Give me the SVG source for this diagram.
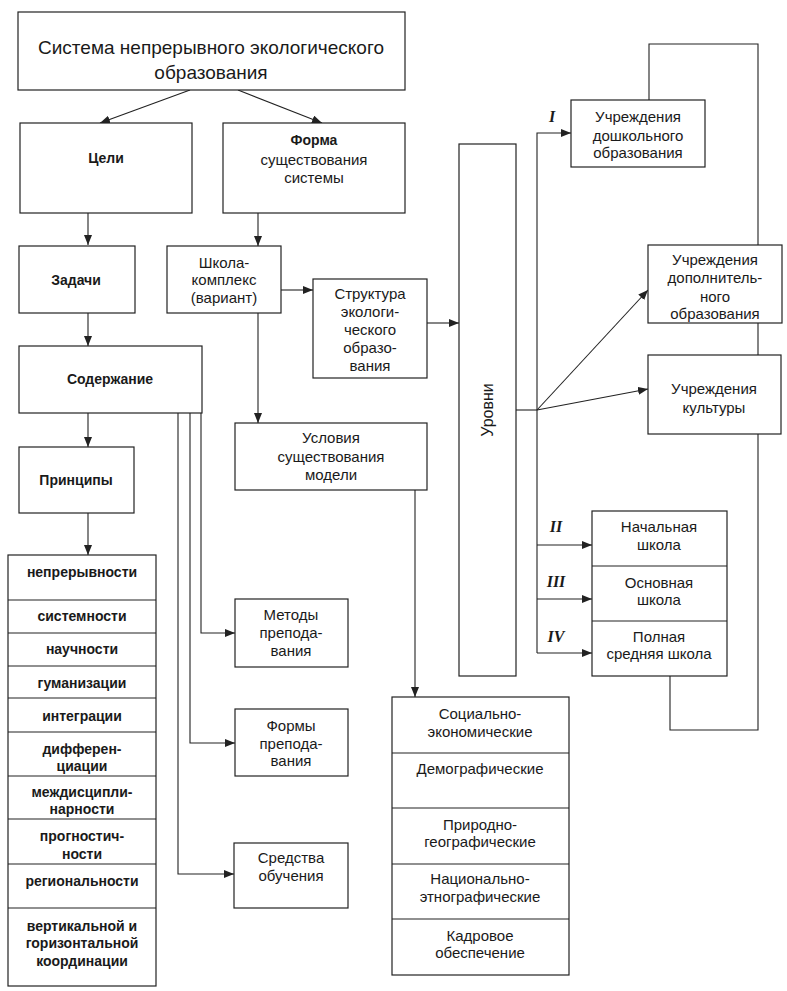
<svg xmlns="http://www.w3.org/2000/svg" width="787" height="991" viewBox="0 0 787 991">
<style>
.b{fill:#fff;stroke:#222;stroke-width:1.2}
.l{fill:none;stroke:#222;stroke-width:1.1}
.t{font-family:"Liberation Sans",Arial,sans-serif;font-size:15px;fill:#1a1a1a;text-anchor:middle}
.tb{font-weight:bold;font-size:14px}
.tt{font-size:19px}
.r{font-family:"Liberation Serif","Times New Roman",serif;font-size:16px;font-weight:bold;font-style:italic;fill:#1a1a1a;text-anchor:middle}
</style>
<defs>
<marker id="a" viewBox="0 0 10 8" refX="10" refY="4" markerWidth="10" markerHeight="8" markerUnits="userSpaceOnUse" orient="auto">
<path d="M0,0 L10,4 L0,8 Z" fill="#222"/>
</marker>
</defs>
<rect width="787" height="991" fill="#fff"/>
<g id="connectors">
<path class="l" d="M649,100 V44 H758 V730 H670 V676"/>
<line class="l" x1="190" y1="90" x2="100" y2="123" marker-end="url(#a)"/>
<line class="l" x1="238" y1="90" x2="322" y2="123" marker-end="url(#a)"/>
<line class="l" x1="88" y1="213" x2="88" y2="245" marker-end="url(#a)"/>
<line class="l" x1="258" y1="213" x2="258" y2="246" marker-end="url(#a)"/>
<line class="l" x1="281" y1="290" x2="313" y2="290" marker-end="url(#a)"/>
<line class="l" x1="427" y1="323" x2="459" y2="323" marker-end="url(#a)"/>
<line class="l" x1="88" y1="313" x2="88" y2="346" marker-end="url(#a)"/>
<line class="l" x1="88" y1="413" x2="88" y2="447" marker-end="url(#a)"/>
<line class="l" x1="88" y1="513" x2="88" y2="555" marker-end="url(#a)"/>
<line class="l" x1="258" y1="313" x2="258" y2="423" marker-end="url(#a)"/>
<path class="l" d="M415,490 V697" marker-end="url(#a)"/>
<path class="l" d="M201,413 V633 H235" marker-end="url(#a)"/>
<path class="l" d="M190,413 V743 H235" marker-end="url(#a)"/>
<path class="l" d="M178,413 V874 H234" marker-end="url(#a)"/>
<path class="l" d="M516,410 H537"/>
<path class="l" d="M537,653 V133 H571" marker-end="url(#a)"/>
<line class="l" x1="537" y1="410" x2="648" y2="290" marker-end="url(#a)"/>
<line class="l" x1="537" y1="410" x2="648" y2="389" marker-end="url(#a)"/>
<line class="l" x1="537" y1="545" x2="592" y2="545" marker-end="url(#a)"/>
<line class="l" x1="537" y1="599" x2="592" y2="599" marker-end="url(#a)"/>
<line class="l" x1="537" y1="653" x2="592" y2="653" marker-end="url(#a)"/>
<text class="r" x="552" y="122">I</text>
<text class="r" x="556" y="532">II</text>
<text class="r" x="556" y="587">III</text>
<text class="r" x="556" y="642">IV</text>
</g>
<g id="n-system">
<rect class="b" x="18" y="12" width="387" height="78"/>
<text class="t tt" x="211" y="54">Система непрерывного экологического</text>
<text class="t tt" x="211" y="79">образования</text>
</g>
<g id="n-goals">
<rect class="b" x="20" y="123" width="172" height="90"/>
<text class="t tb" x="106" y="163">Цели</text>
</g>
<g id="n-form">
<rect class="b" x="223" y="123" width="182" height="90"/>
<text class="t tb" x="314" y="145">Форма</text>
<text class="t" x="314" y="165">существования</text>
<text class="t" x="314" y="183">системы</text>
</g>
<g id="n-tasks">
<rect class="b" x="19" y="246" width="116" height="67"/>
<text class="t tb" x="76" y="285">Задачи</text>
</g>
<g id="n-school">
<rect class="b" x="167" y="246" width="114" height="67"/>
<text class="t" x="224" y="268">Школа-</text>
<text class="t" x="224" y="285">комплекс</text>
<text class="t" x="224" y="303">(вариант)</text>
</g>
<g id="n-structure">
<rect class="b" x="313" y="279" width="114" height="99"/>
<text class="t" x="370" y="299">Структура</text>
<text class="t" x="370" y="317">экологи-</text>
<text class="t" x="370" y="335">ческого</text>
<text class="t" x="370" y="353">образо-</text>
<text class="t" x="370" y="371">вания</text>
</g>
<g id="n-levels">
<rect class="b" x="459" y="144" width="57" height="532"/>
<text class="t" style="font-size:16px" transform="translate(493,410) rotate(-90)">Уровни</text>
</g>
<g id="n-content">
<rect class="b" x="19" y="346" width="183" height="67"/>
<text class="t tb" x="110" y="384">Содержание</text>
</g>
<g id="n-principles">
<rect class="b" x="19" y="447" width="115" height="66"/>
<text class="t tb" x="76" y="485">Принципы</text>
</g>
<g id="n-principles-list">
<rect class="b" x="8" y="555" width="148" height="431"/>
<path class="l" d="M8,600 H156 M8,633 H156 M8,666 H156 M8,698 H156 M8,732 H156 M8,776 H156 M8,819 H156 M8,864 H156 M8,908 H156"/>
<text class="t tb" x="82" y="577">непрерывности</text>
<text class="t tb" x="82" y="621">системности</text>
<text class="t tb" x="82" y="654">научности</text>
<text class="t tb" x="82" y="688">гуманизации</text>
<text class="t tb" x="82" y="721">интеграции</text>
<text class="t tb" x="82" y="754">дифферен-</text>
<text class="t tb" x="82" y="771">циации</text>
<text class="t tb" x="82" y="797">междисципли-</text>
<text class="t tb" x="82" y="814">нарности</text>
<text class="t tb" x="82" y="841">прогностич-</text>
<text class="t tb" x="82" y="859">ности</text>
<text class="t tb" x="82" y="886">региональности</text>
<text class="t tb" x="82" y="931">вертикальной и</text>
<text class="t tb" x="82" y="948">горизонтальной</text>
<text class="t tb" x="82" y="966">координации</text>
</g>
<g id="n-conditions">
<rect class="b" x="235" y="423" width="192" height="67"/>
<text class="t" x="331" y="443">Условия</text>
<text class="t" x="331" y="462">существования</text>
<text class="t" x="331" y="480">модели</text>
</g>
<g id="n-methods">
<rect class="b" x="235" y="599" width="113" height="68"/>
<text class="t" x="291" y="620">Методы</text>
<text class="t" x="291" y="638">препода-</text>
<text class="t" x="291" y="656">вания</text>
</g>
<g id="n-forms">
<rect class="b" x="235" y="709" width="113" height="67"/>
<text class="t" x="291" y="731">Формы</text>
<text class="t" x="291" y="749">препода-</text>
<text class="t" x="291" y="766">вания</text>
</g>
<g id="n-means">
<rect class="b" x="234" y="843" width="114" height="65"/>
<text class="t" x="291" y="863">Средства</text>
<text class="t" x="291" y="881">обучения</text>
</g>
<g id="n-factors">
<rect class="b" x="392" y="697" width="177" height="278"/>
<path class="l" d="M392,753 H569 M392,808 H569 M392,864 H569 M392,919 H569"/>
<text class="t" x="480" y="719">Социально-</text>
<text class="t" x="480" y="737">экономические</text>
<text class="t" x="480" y="774">Демографические</text>
<text class="t" x="480" y="830">Природно-</text>
<text class="t" x="480" y="847">географические</text>
<text class="t" x="480" y="884">Национально-</text>
<text class="t" x="480" y="902">этнографические</text>
<text class="t" x="480" y="941">Кадровое</text>
<text class="t" x="480" y="958">обеспечение</text>
</g>
<g id="n-preschool">
<rect class="b" x="571" y="100" width="134" height="67"/>
<text class="t" x="638" y="122">Учреждения</text>
<text class="t" x="638" y="141">дошкольного</text>
<text class="t" x="638" y="158">образования</text>
</g>
<g id="n-additional">
<rect class="b" x="648" y="245" width="134" height="78"/>
<text class="t" x="715" y="265">Учреждения</text>
<text class="t" x="715" y="283">дополнитель-</text>
<text class="t" x="715" y="302">ного</text>
<text class="t" x="715" y="319">образования</text>
</g>
<g id="n-culture">
<rect class="b" x="648" y="355" width="133" height="79"/>
<text class="t" x="714" y="394">Учреждения</text>
<text class="t" x="714" y="413">культуры</text>
</g>
<g id="n-schools">
<rect class="b" x="592" y="511" width="135" height="165"/>
<path class="l" d="M592,566 H727 M592,621 H727"/>
<text class="t" x="659" y="532">Начальная</text>
<text class="t" x="659" y="550">школа</text>
<text class="t" x="659" y="588">Основная</text>
<text class="t" x="659" y="605">школа</text>
<text class="t" x="659" y="642">Полная</text>
<text class="t" x="659" y="659">средняя школа</text>
</g>
</svg>
